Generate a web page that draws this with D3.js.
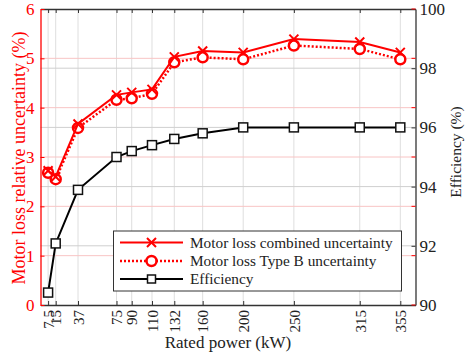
<!DOCTYPE html>
<html>
<head>
<meta charset="utf-8">
<script src="https://cdn.jsdelivr.net/npm/d3@7"></script>
<style>
  html, body { margin: 0; padding: 0; background: #fff; }
  svg { display: block; }
  svg text { font-family: "Liberation Serif", "Times New Roman", serif !important; }
</style>
</head>
<body>
<svg id="chart" width="465" height="361"></svg>
<script>
// Rated power of each motor (kW)
const ratedPower = [7.5, 15, 37, 75, 90, 110, 132, 160, 200, 250, 315, 355];
// Motor loss combined uncertainty (%)
const combinedUnc = [2.72, 2.60, 3.67, 4.26, 4.31, 4.37, 5.03, 5.15, 5.12, 5.39, 5.33, 5.12];
// Motor loss Type B uncertainty (%)
const typeBUnc = [2.68, 2.55, 3.59, 4.16, 4.19, 4.28, 4.92, 5.02, 4.98, 5.26, 5.19, 4.98];
// Efficiency (%)
const efficiency = [90.42, 92.08, 93.89, 95.0, 95.2, 95.4, 95.61, 95.8, 96.0, 96.0, 96.0, 96.0];

const xTickLabels = ["7.5", "15", "37", "75", "90", "110", "132", "160", "200", "250", "315", "355"];
const leftTicks = [0, 1, 2, 3, 4, 5, 6];
const rightTicks = [90, 92, 94, 96, 98, 100];

const legendLabels = [
  "Motor loss combined uncertainty",
  "Motor loss Type B uncertainty",
  "Efficiency"
];

const RED = "#ff0000";
const SERIF = '"Liberation Serif", "Times New Roman", serif';
const svg = d3.select("#chart").attr("font-family", SERIF);
const m = { left: 40.5, right: 415.5, top: 9, bottom: 305 };

const x = d3.scaleLinear().domain([0, 370]).range([m.left, m.right]);
const yL = d3.scaleLinear().domain([0, 6]).range([m.bottom, m.top]);
const yR = d3.scaleLinear().domain([90, 100]).range([m.bottom, m.top]);

// grid
const grid = svg.append("g");
grid.selectAll("line.vx").data(ratedPower).join("line")
  .attr("x1", d => x(d)).attr("x2", d => x(d))
  .attr("y1", m.top).attr("y2", m.bottom)
  .attr("stroke", "#dedede").attr("stroke-width", 1);
grid.selectAll("line.hr").data(rightTicks.slice(1, -1)).join("line")
  .attr("x1", m.left).attr("x2", m.right)
  .attr("y1", d => yR(d)).attr("y2", d => yR(d))
  .attr("stroke", "#cfcfcf").attr("stroke-width", 1);
grid.selectAll("line.hl").data(leftTicks.slice(1, -1)).join("line")
  .attr("x1", m.left).attr("x2", m.right)
  .attr("y1", d => yL(d)).attr("y2", d => yL(d))
  .attr("stroke", "#f8c4c4").attr("stroke-width", 1);

// bottom axis (ticks pointing inward)
const xAxis = d3.axisBottom(x).tickValues(ratedPower)
  .tickFormat((d, i) => xTickLabels[i]).tickSizeInner(-4).tickSizeOuter(0);
const gx = svg.append("g").attr("transform", `translate(0,${m.bottom})`).call(xAxis)
  .attr("font-family", SERIF);
gx.select(".domain").attr("stroke", "#333").attr("stroke-width", 1.3);
gx.selectAll(".tick line").attr("stroke", "#333");
gx.selectAll(".tick text")
  .attr("font-size", 15).attr("fill", "#222")
  .attr("transform", "rotate(-90)")
  .attr("text-anchor", "end")
  .attr("x", -5).attr("y", 0).attr("dy", "0.35em");

// top axis mirror
const gxt = svg.append("g").attr("transform", `translate(0,${m.top})`)
  .call(d3.axisTop(x).tickValues(ratedPower).tickFormat("").tickSizeInner(-4).tickSizeOuter(0));
gxt.select(".domain").attr("stroke", "#333").attr("stroke-width", 1.3);
gxt.selectAll(".tick line").attr("stroke", "#333");

// right axis (efficiency)
const gr = svg.append("g").attr("transform", `translate(${m.right},0)`)
  .call(d3.axisRight(yR).tickValues(rightTicks).tickFormat(d3.format("d"))
    .tickSizeInner(-4).tickSizeOuter(0).tickPadding(4))
  .attr("font-family", SERIF);
gr.select(".domain").attr("stroke", "#333").attr("stroke-width", 1.3);
gr.selectAll(".tick line").attr("stroke", "#333");
gr.selectAll(".tick text").attr("font-size", 17).attr("fill", "#222");

// red mirror ticks on the right side
svg.append("g").selectAll("line").data(leftTicks).join("line")
  .attr("x1", m.right - 4).attr("x2", m.right)
  .attr("y1", d => yL(d)).attr("y2", d => yL(d))
  .attr("stroke", RED).attr("stroke-width", 1);

// left axis (uncertainty)
const gl = svg.append("g").attr("transform", `translate(${m.left},0)`)
  .call(d3.axisLeft(yL).tickValues(leftTicks).tickFormat(d3.format("d"))
    .tickSizeInner(-4).tickSizeOuter(0).tickPadding(6))
  .attr("font-family", SERIF);
gl.select(".domain").attr("stroke", RED).attr("stroke-width", 1.3);
gl.selectAll(".tick line").attr("stroke", RED);
gl.selectAll(".tick text").attr("font-size", 17).attr("fill", RED);

// axis titles
svg.append("text").attr("x", (m.left + m.right) / 2).attr("y", 348)
  .attr("text-anchor", "middle").attr("font-size", 17).attr("fill", "#222")
  .text("Rated power (kW)");
svg.append("text")
  .attr("transform", "translate(25,158) rotate(-90)")
  .attr("text-anchor", "middle").attr("font-size", 18).attr("fill", RED)
  .text("Motor loss relative uncertainty (%)");
svg.append("text")
  .attr("transform", "translate(460.5,152) rotate(-90)")
  .attr("text-anchor", "middle").attr("font-size", 15.5).attr("fill", "#222")
  .text("Efficiency (%)");

// series
const lineL = d3.line().x((d, i) => x(ratedPower[i])).y(d => yL(d));
const lineR = d3.line().x((d, i) => x(ratedPower[i])).y(d => yR(d));

function crossPath(cx, cy, s) {
  return `M${cx - s},${cy - s}L${cx + s},${cy + s}M${cx - s},${cy + s}L${cx + s},${cy - s}`;
}

// efficiency
svg.append("path").datum(efficiency).attr("d", lineR)
  .attr("fill", "none").attr("stroke", "#000").attr("stroke-width", 2);
svg.append("g").selectAll("rect").data(efficiency).join("rect")
  .attr("x", (d, i) => x(ratedPower[i]) - 4.5).attr("y", d => yR(d) - 4.5)
  .attr("width", 9).attr("height", 9)
  .attr("fill", "#fff").attr("stroke", "#111").attr("stroke-width", 1.5);

// Type B
svg.append("path").datum(typeBUnc).attr("d", lineL)
  .attr("fill", "none").attr("stroke", RED).attr("stroke-width", 2.5)
  .attr("stroke-dasharray", "2,2");
svg.append("g").selectAll("circle").data(typeBUnc).join("circle")
  .attr("cx", (d, i) => x(ratedPower[i])).attr("cy", d => yL(d)).attr("r", 5)
  .attr("fill", "#fff").attr("stroke", RED).attr("stroke-width", 2.5);

// combined
svg.append("path").datum(combinedUnc).attr("d", lineL)
  .attr("fill", "none").attr("stroke", RED).attr("stroke-width", 2);
svg.append("g").selectAll("path").data(combinedUnc).join("path")
  .attr("d", (d, i) => crossPath(x(ratedPower[i]), yL(d), 4.5))
  .attr("fill", "none").attr("stroke", RED).attr("stroke-width", 2);

// legend
const lg = svg.append("g");
lg.append("rect").attr("x", 113.5).attr("y", 231).attr("width", 288).attr("height", 60)
  .attr("fill", "#fff").attr("stroke", "#333").attr("stroke-width", 1);
const rowY = [242.5, 261, 279];
const lx1 = 120, lx2 = 183, lmx = 151.5;
// row 1
lg.append("line").attr("x1", lx1).attr("x2", lx2).attr("y1", rowY[0]).attr("y2", rowY[0])
  .attr("stroke", RED).attr("stroke-width", 2);
lg.append("path").attr("d", crossPath(lmx, rowY[0], 4.5))
  .attr("stroke", RED).attr("stroke-width", 2).attr("fill", "none");
// row 2
lg.append("line").attr("x1", lx1).attr("x2", lx2).attr("y1", rowY[1]).attr("y2", rowY[1])
  .attr("stroke", RED).attr("stroke-width", 2.5).attr("stroke-dasharray", "2,2");
lg.append("circle").attr("cx", lmx).attr("cy", rowY[1]).attr("r", 5)
  .attr("fill", "#fff").attr("stroke", RED).attr("stroke-width", 2.5);
// row 3
lg.append("line").attr("x1", lx1).attr("x2", lx2).attr("y1", rowY[2]).attr("y2", rowY[2])
  .attr("stroke", "#000").attr("stroke-width", 2);
lg.append("rect").attr("x", lmx - 4).attr("y", rowY[2] - 4).attr("width", 8).attr("height", 8)
  .attr("fill", "#fff").attr("stroke", "#111").attr("stroke-width", 1.5);
lg.selectAll("text.lab").data(legendLabels).join("text")
  .attr("x", 190).attr("y", (d, i) => rowY[i]).attr("dy", "0.35em")
  .attr("font-size", 15.3).attr("fill", "#222")
  .text(d => d);
</script>
</body>
</html>
